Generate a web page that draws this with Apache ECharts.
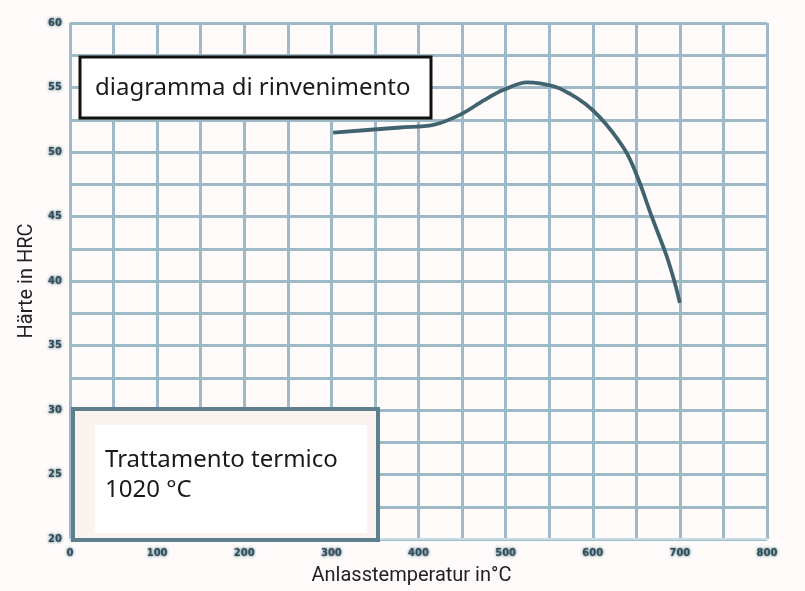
<!DOCTYPE html>
<html>
<head>
<meta charset="utf-8">
<script src="https://cdn.jsdelivr.net/npm/echarts@6/dist/echarts.min.js"></script>
<style>
html,body{margin:0;padding:0;background:#ffffff;}
#chart{width:805px;height:591px;}
</style>
</head>
<body>
<div id="chart"></div>
<script>
// Data
const temperatures = [302, 379, 417, 448, 475, 497, 525, 555, 574, 592, 608, 623, 640, 654, 665, 675, 685, 694, 700];
const hardness     = [51.5, 51.9, 52.1, 52.9, 54.0, 54.8, 55.4, 55.1, 54.5, 53.7, 52.7, 51.5, 49.8, 47.6, 45.5, 43.7, 41.9, 39.9, 38.3];
const xTickLabels = [0, 100, 200, 300, 400, 500, 600, 700, 800];
const yTickLabels = [20, 25, 30, 35, 40, 45, 50, 55, 60];
const titleText = 'diagramma di rinvenimento';
const noteLines = ['Trattamento termico', '1020 °C'];
const xName = 'Anlasstemperatur in°C';
const yName = 'Härte in HRC';

const chart = echarts.init(document.getElementById('chart'));
const gridColor = '#9fbac7';
const tickColor = '#2e4f5d';

const option = {
  animation: false,
  backgroundColor: '#fefbfa',
  grid: {left: 70, right: 38, top: 23, bottom: 51},
  xAxis: {
    type: 'value', min: 0, max: 800, interval: 50,
    name: xName, nameLocation: 'middle', nameGap: 27,
    nameTextStyle: {fontFamily: 'Liberation Sans Narrow, Roboto, sans-serif', fontSize: 20, color: '#222', padding: [0, 14, 0, 0]},
    axisLine: {show: true, lineStyle: {color: '#c9dbe4', width: 2}},
    axisTick: {show: false},
    axisLabel: {
      margin: 9, color: tickColor, fontSize: 10, fontWeight: 'bold',
      fontFamily: 'DejaVu Sans',
      textShadowColor: tickColor, textShadowBlur: 3,
      formatter: v => xTickLabels.includes(v) ? String(v) : ''
    },
    splitLine: {show: true, lineStyle: {color: gridColor, width: 3}}
  },
  yAxis: {
    type: 'value', min: 20, max: 60, interval: 2.5,
    name: yName, nameLocation: 'middle', nameGap: 32,
    nameTextStyle: {fontFamily: 'Liberation Sans Narrow, Roboto, sans-serif', fontSize: 20, color: '#222'},
    axisLine: {show: false},
    axisTick: {show: false},
    axisLabel: {
      margin: 8, color: tickColor, fontSize: 10, fontWeight: 'bold',
      fontFamily: 'DejaVu Sans',
      textShadowColor: tickColor, textShadowBlur: 3,
      formatter: v => yTickLabels.includes(v) ? String(v) : ''
    },
    splitLine: {show: true, lineStyle: {color: gridColor, width: 3}}
  },
  series: [{
    type: 'line',
    data: temperatures.map((t, i) => [t, hardness[i]]),
    smooth: 0.35,
    symbol: 'none',
    lineStyle: {color: '#41636f', width: 3.8},
    z: 5
  }],
  graphic: [
    {
      type: 'rect', z: 100,
      shape: {x: 80, y: 57, width: 351, height: 61},
      style: {fill: '#ffffff', stroke: '#111111', lineWidth: 3}
    },
    {
      type: 'text', z: 101, left: 95, top: 76,
      style: {text: titleText, fontFamily: 'Noto Sans, sans-serif', fontSize: 24, fill: '#1a1a1a'}
    },
    {
      type: 'rect', z: 100,
      shape: {x: 73, y: 409, width: 305, height: 131},
      style: {fill: '#fbf3f0', stroke: '#5f7f8d', lineWidth: 4}
    },
    {
      type: 'rect', z: 100,
      shape: {x: 95, y: 425, width: 272, height: 108},
      style: {fill: '#ffffff'}
    },
    {
      type: 'text', z: 101, left: 105, top: 445,
      style: {text: noteLines.join('\n'), fontFamily: 'Noto Sans, sans-serif', fontSize: 24, lineHeight: 30, fill: '#1a1a1a'}
    }
  ]
};
chart.setOption(option);
</script>
</body>
</html>
